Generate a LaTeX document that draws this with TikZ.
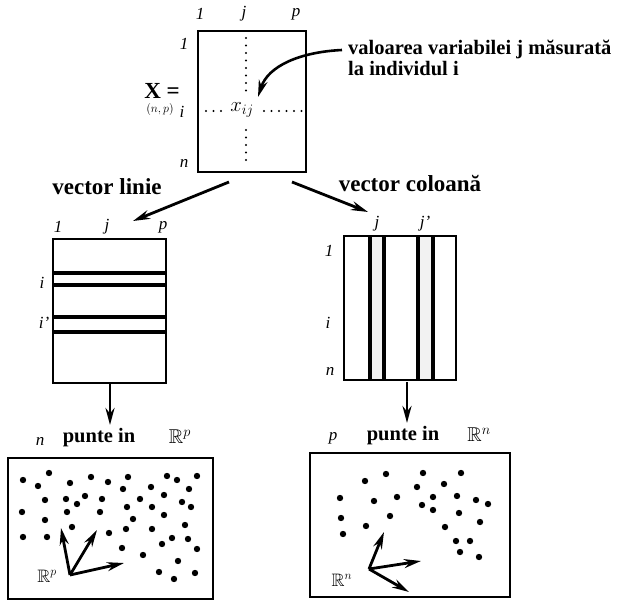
\documentclass[tikz,border=0pt]{standalone}
\usepackage{fontspec}
\setmainfont{Liberation Serif}
\usepackage{amssymb}
\usetikzlibrary{arrows.meta}

\begin{document}
\begin{tikzpicture}[x=1pt, y=-1pt, >={Stealth[length=17pt,width=9pt]}]

% Frame
\useasboundingbox (0,0) rectangle (639,601);

% Styles
\tikzset{
  frame/.style={draw, line width=2.4pt, inner sep=0pt},
  bar/.style={line width=3.2pt},
  lbl/.style={font=\fontsize{17}{17}\selectfont\itshape},
  txt/.style={font=\fontsize{20.5}{20.5}\selectfont\bfseries},
  big/.style={font=\fontsize{23}{23}\selectfont\bfseries},
  arw/.style={->, line width=2.8pt},
  dotline/.style={line width=2.4pt, line cap=round, dash pattern=on 0pt off 7.5pt}
}

% Top matrix X
\node[frame, minimum width=108pt, minimum height=141pt] (X) at (252,101.5) {};
\node[lbl] (Xc1) at (200,14) {1};
\node[lbl] (Xcj) at (244,14) {j};
\node[lbl] (Xcp) at (296,14) {p};
\node[lbl] (Xr1) at (184,44) {1};
\node[lbl] (Xri) at (182,112) {i};
\node[lbl] (Xrn) at (184,163) {n};
\node[big, inner sep=0pt] (Xname) at (162,91) {X =};
\node[font=\fontsize{12}{12}\selectfont, inner sep=0pt] (Xdim) at (160,110) {$(n,p)$};
\node[font=\fontsize{22}{22}\selectfont] (xij) at (242,110) {$x_{ij}$};

% Dotted row i and column j
\draw[dotline] (246,38) -- (246,92);
\draw[dotline] (246,130) -- (246,165);
\draw[dotline] (206,111) -- (228,111);
\draw[dotline] (264,111) -- (305,111);

% Explanation
\node[txt, align=left, anchor=north west, inner sep=0pt] (val) at (348,40)
  {valoarea variabilei j măsurată\\[0pt]la individul i};
\coordinate (c1) at (342,50);
\coordinate (c2) at (258,97);
\draw[->, line width=2.6pt] (c1) .. controls (300,52) and (268,66) .. (c2);

% Split arrows
\coordinate (a1) at (229,182);
\coordinate (a2) at (133,221);
\coordinate (b1) at (292,182);
\coordinate (b2) at (368,212);
\draw[arw] (a1) -- (a2);
\draw[arw] (b1) -- (b2);
\node[big] (vl) at (107,187) {vector linie};
\node[big] (vc) at (410,184) {vector coloană};

% Left matrix: rows
\node[frame, minimum width=113pt, minimum height=144pt] (L) at (109.5,311) {};
\node[lbl] (Lc1) at (58,227) {1};
\node[lbl] (Lcj) at (107,227) {j};
\node[lbl] (Lcp) at (163,227) {p};
\node[lbl] (Lri) at (42,283) {i};
\node[lbl] (Lri2) at (44,323) {i'};
\foreach \y in {273,285,317,332}
  \draw[bar] (53,\y) -- (166,\y);

% Right matrix: columns
\fill[gray!10] (370,236) rectangle (384,380);
\fill[gray!10] (418,236) rectangle (433,380);
\foreach \x in {370,384,418,433}
  \draw[bar] (\x,236) -- (\x,380);
\node[frame, minimum width=112pt, minimum height=144pt] (C) at (400,308) {};
\node[lbl] (Ccj) at (377,224) {j};
\node[lbl] (Ccj2) at (425,224) {j'};
\node[lbl] (Cr1) at (329,251) {1};
\node[lbl] (Cri) at (328,323) {i};
\node[lbl] (Crn) at (330,371) {n};

% Down arrows
\coordinate (d1) at (110,384);
\coordinate (d2) at (110,425);
\coordinate (e1) at (407,382);
\coordinate (e2) at (407,423);
\draw[arw] (d1) -- (d2);
\draw[arw] (e1) -- (e2);

% Captions
\node[lbl] (nl) at (40,441) {n};
\node[txt] (pl) at (99,438) {punte in};
\node[font=\fontsize{20}{20}\selectfont] (Rl) at (180,437) {$\mathbb{R}^p$};
\node[lbl] (pr) at (333,438) {p};
\node[txt] (prr) at (403,436) {punte in};
\node[font=\fontsize{20}{20}\selectfont] (Rr) at (479,435) {$\mathbb{R}^n$};

% Bottom boxes
\node[frame, minimum width=205pt, minimum height=141pt] (BL) at (110.5,528.5) {};
\node[frame, minimum width=200pt, minimum height=144pt] (BR) at (410,525) {};

% Points of the left cloud
\foreach \x/\y in {23/480,49/473,38/486,70/483,91/477,108/482,128/477,123/489,
  151/487,167/476,177/480,197/476,189/489,45/500,66/499,77/504,85/496,102/499,
  140/499,164/495,182/502,191/507,22/512,67/512,100/512,127/507,152/507,
  133/519,164/515,45/520,72/527,109/533,126/529,152/529,185/525,23/537,
  47/537,162/544,172/538,188/539,197/549,122/548,143/555,178/561,159/572,
  174/579,195/573}
  \fill (\x,\y) circle (3.2);

% Points of the right cloud
\foreach \x/\y in {365/481,386/474,423/473,461/473,417/487,444/484,340/498,
  374/501,397/497,433/497,457/496,476/500,488/504,422/505,433/510,459/513,
  341/518,390/516,366/526,480/522,445/527,343/534,456/541,470/541,460/552,
  479/557}
  \fill (\x,\y) circle (3.2);

% Axes in R^p
\coordinate (O1) at (70,575);
\coordinate (u1) at (61,528);
\coordinate (u2) at (97,530);
\coordinate (u3) at (124,563);
\foreach \t in {u1,u2,u3}
  \draw[arw] (O1) -- (\t);
\node[font=\fontsize{18}{18}\selectfont] (RpB) at (47,576) {$\mathbb{R}^p$};

% Axes in R^n
\coordinate (O2) at (369,569);
\coordinate (v1) at (384,532);
\coordinate (v2) at (421,561);
\coordinate (v3) at (409,592);
\foreach \t in {v1,v2,v3}
  \draw[arw] (O2) -- (\t);
\node[font=\fontsize{18}{18}\selectfont] (RnB) at (342,580) {$\mathbb{R}^n$};

\end{tikzpicture}
\end{document}
